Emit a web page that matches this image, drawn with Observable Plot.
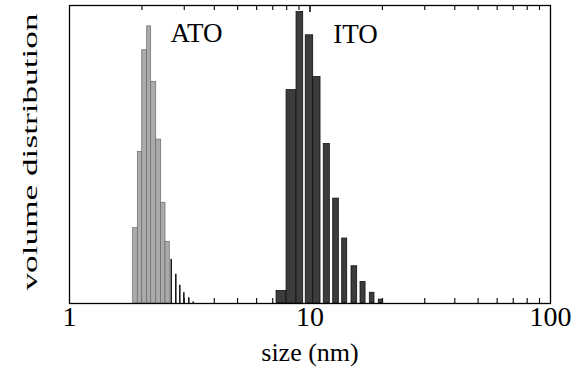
<!DOCTYPE html>
<html><head><meta charset="utf-8">
<script src="https://cdn.jsdelivr.net/npm/d3@7"></script>
<script src="https://cdn.jsdelivr.net/npm/@observablehq/plot@0.6"></script>
<style>body{margin:0;background:#fff}</style>
</head><body><div id="chart"></div>
<script>
// ATO size bins (nm, log-spaced) and volume fractions
const atoX1 = [1.84, 1.923, 2.006, 2.104, 2.186, 2.294, 2.406, 2.507];
const atoX2 = [1.923, 2.006, 2.104, 2.186, 2.294, 2.406, 2.507, 2.612];
const atoValues = [0.253, 0.509, 0.85, 0.93, 0.744, 0.55, 0.338, 0.207];
const atoTailX = [2.648, 2.767, 2.875, 2.988, 3.134, 3.268];
const atoTailValues = [0.148, 0.098, 0.061, 0.036, 0.019, 0.005];
// ITO size bins (nm) and volume fractions
const itoX1 = [7.26, 7.99, 8.79, 9.60, 10.31, 11.41, 12.49, 13.61, 14.88, 16.22, 17.73, 19.32];
const itoX2 = [7.99, 8.79, 9.37, 10.31, 11.06, 12.09, 13.18, 14.28, 15.71, 17.02, 18.54, 20.16];
const itoValues = [0.042, 0.716, 0.978, 0.90, 0.76, 0.535, 0.352, 0.218, 0.125, 0.072, 0.036, 0.013];
// labels
const seriesNames = ["ATO", "ITO"];
const seriesLabelX = [2.63, 12.5];
const seriesLabelY = [0.871, 0.868];
const majorTicks = [1, 10, 100];
const minorTicks = [2,3,4,5,6,7,8,9,20,30,40,50,60,70,80,90];
const xLabel = "size (nm)";
const yLabel = "volume distribution";

const ato = atoX1.map((x1, i) => ({x1, x2: atoX2[i], v: atoValues[i]}));
const atoTail = atoTailX.map((x, i) => ({x, v: atoTailValues[i]}));
const ito = itoX1.map((x1, i) => ({x1, x2: itoX2[i], v: itoValues[i]}));
const labels = seriesNames.map((name, i) => ({name, x: seriesLabelX[i], y: seriesLabelY[i]}));

const font = "Liberation Serif";
const W = 578, H = 374, mT = 5, mB = 71, mL = 69, mR = 28;
const frameH = H - mT - mB;
const minorLen = 5, majorLen = 7;

const chart = Plot.plot({
  width: W,
  height: H,
  marginLeft: mL,
  marginRight: mR,
  marginTop: mT,
  marginBottom: mB,
  style: {fontFamily: font, background: "white", color: "black"},
  x: {type: "log", domain: [1, 100], axis: null},
  y: {domain: [0, 1], axis: null},
  marks: [
    Plot.ruleX(minorTicks, {insetBottom: frameH - minorLen, stroke: "black", strokeWidth: 1.1}),
    Plot.ruleX(minorTicks, {insetTop: frameH - minorLen, stroke: "black", strokeWidth: 1.1}),
    Plot.ruleX([10], {insetBottom: frameH - majorLen, stroke: "black", strokeWidth: 1.5}),
    Plot.ruleX([10], {insetTop: frameH - majorLen, stroke: "black", strokeWidth: 1.5}),
    Plot.rect(ato, {x1: "x1", x2: "x2", y1: 0, y2: "v", fill: "#ababab", stroke: "#6a6a6a", strokeWidth: 0.7}),
    Plot.ruleX(atoTail, {x: "x", y1: 0, y2: "v", stroke: "#1a1a1a", strokeWidth: 1.6}),
    Plot.rect(ito, {x1: "x1", x2: "x2", y1: 0, y2: "v", fill: "#3c3c3c", stroke: "#111", strokeWidth: 0.8}),
    Plot.text(labels, {x: "x", y: "y", text: "name", textAnchor: "start", lineAnchor: "bottom", fontSize: 27, fontFamily: font, fill: "black", dy: -2}),
    Plot.frame({stroke: "black", strokeWidth: 1.3}),
    Plot.axisX(majorTicks, {anchor: "bottom", tickSize: 0, tickPadding: 3, fontSize: 28, fontFamily: font, tickFormat: d => String(d), label: null, fill: "black"}),
    Plot.text([xLabel], {frameAnchor: "bottom", text: d => d, lineAnchor: "bottom", dy: 57, fontSize: 26, fontFamily: font, fill: "black"}),
    Plot.text([yLabel], {frameAnchor: "left", text: d => d, rotate: -90, textAnchor: "start", lineAnchor: "middle", dx: -39, dy: 136, fontSize: 20, fontFamily: font, fill: "black"})
  ]
});
document.getElementById("chart").appendChild(chart);
// stretch the vertical label like in the scanned original
chart.querySelectorAll("text").forEach(t => {
  if (t.textContent === yLabel) {
    t.setAttribute("textLength", 277);
    t.setAttribute("lengthAdjust", "spacingAndGlyphs");
  }
});
</script>
</body></html>
